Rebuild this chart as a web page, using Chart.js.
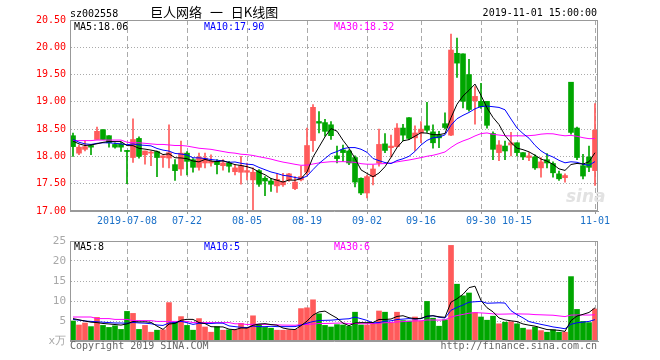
<!DOCTYPE html>
<html>
<head>
<meta charset="utf-8">
<title>巨人网络 日K线图</title>
<script src="https://cdn.jsdelivr.net/npm/chart.js@4.4.0/dist/chart.umd.min.js"></script>
<style>
  body { margin: 0; background: #fff; }
  #wrap { position: relative; width: 660px; height: 360px; overflow: hidden; font-family: "DejaVu Sans Mono", monospace; font-size: 10px; }
  .t { position: absolute; white-space: nowrap; line-height: 10px; }
  canvas { position: absolute; left: 0; }
  #c1 { top: 0; }
  #c2 { top: 230px; }
</style>
</head>
<body>
<div id="wrap">
  <canvas id="c1" width="660" height="230"></canvas>
  <canvas id="c2" width="660" height="130"></canvas>

  <div class="t" style="left:70px;top:9px;color:#000">sz002558</div>
  <div class="t" style="left:150px;top:5px;font-family:'Noto Sans CJK SC';font-size:13px;line-height:14px;word-spacing:5px;color:#000">巨人网络 一 日K线图</div>
  <div class="t" style="right:63px;top:8px;color:#000">2019-11-01 15:00:00</div>

  <div class="t" style="left:74px;top:22px;color:#000">MA5:18.06</div>
  <div class="t" style="left:204px;top:22px;color:#0000ff">MA10:17.90</div>
  <div class="t" style="left:334px;top:22px;color:#ff00ff">MA30:18.32</div>

  <div class="t" style="left:74px;top:242px;color:#000">MA5:8</div>
  <div class="t" style="left:204px;top:242px;color:#0000ff">MA10:5</div>
  <div class="t" style="left:334px;top:242px;color:#ff00ff">MA30:6</div>

  <div class="t" style="left:566px;top:187px;font-family:'DejaVu Sans';font-size:17px;line-height:18px;font-style:italic;font-weight:bold;color:#e2e2e2">sina</div>

  <div class="t" style="left:70px;top:341px;color:#666">Copyright 2019 SINA.COM</div>
  <div class="t" style="right:63px;top:341px;color:#666">http://finance.sina.com.cn</div>
</div>

<script>
// trading days 2019-06-25 .. 2019-11-01
var dates = ['06-25','06-26','06-27','06-28','07-01','07-02','07-03','07-04','07-05','07-08',
  '07-09','07-10','07-11','07-12','07-15','07-16','07-17','07-18','07-19','07-22',
  '07-23','07-24','07-25','07-26','07-29','07-30','07-31','08-01','08-02','08-05',
  '08-06','08-07','08-08','08-09','08-12','08-13','08-14','08-15','08-16','08-19',
  '08-20','08-21','08-22','08-23','08-26','08-27','08-28','08-29','08-30','09-02',
  '09-03','09-04','09-05','09-06','09-09','09-10','09-11','09-12','09-16','09-17',
  '09-18','09-19','09-20','09-23','09-24','09-25','09-26','09-27','09-30','10-08',
  '10-09','10-10','10-11','10-14','10-15','10-16','10-17','10-18','10-21','10-22',
  '10-23','10-24','10-25','10-28','10-29','10-30','10-31','11-01'];

var tickDates  = ['07-08','07-22','08-05','08-19','09-02','09-16','09-30','10-15','11-01'];
var tickLabels = ['2019-07-08','07-22','08-05','08-19','09-02','09-16','09-30','10-15','11-01'];

var opens = [18.38,18.06,18.13,18.20,18.31,18.49,18.38,18.22,18.23,18.11,
  17.98,18.33,18.03,18.06,18.09,17.98,17.97,17.85,17.77,18.06,
  17.94,17.80,17.88,17.88,17.91,17.83,17.88,17.72,17.71,17.71,
  17.57,17.74,17.60,17.55,17.46,17.48,17.57,17.41,17.57,17.71,
  18.29,18.64,18.62,18.58,18.01,18.12,18.10,17.98,17.60,17.33,
  17.63,17.88,18.23,18.16,18.18,18.52,18.71,18.34,18.43,18.56,
  18.45,18.39,18.60,18.39,19.89,19.88,19.50,19.02,19.01,19.01,
  18.42,18.07,18.19,18.21,18.25,18.07,17.98,17.99,17.79,17.94,
  17.87,17.68,17.61,19.36,18.52,17.83,17.99,17.74];

var highs = [18.43,18.21,18.29,18.21,18.54,18.49,18.38,18.25,18.26,18.11,
  18.69,18.36,18.10,18.10,18.10,18.01,18.58,17.94,18.28,18.09,
  17.96,18.06,18.06,18.03,17.94,17.94,17.91,17.85,18.00,17.88,
  17.79,17.76,17.63,17.60,17.68,17.69,17.69,17.63,17.82,18.52,
  18.95,18.82,18.68,18.64,18.19,18.21,18.12,18.01,17.61,17.66,
  17.84,18.50,18.42,18.39,18.60,18.59,18.71,18.56,18.64,18.99,
  18.58,18.46,18.80,20.24,20.17,19.88,19.78,19.28,19.34,19.01,
  18.45,18.29,18.28,18.44,18.25,18.07,18.07,18.03,17.98,18.05,
  17.90,17.73,17.68,19.36,18.54,18.04,18.19,18.97];

var lows = [18.00,18.03,18.10,18.03,18.31,18.31,18.17,18.15,18.09,17.50,
  17.89,17.97,17.86,17.83,17.63,17.80,17.79,17.56,17.65,17.66,
  17.71,17.75,17.79,17.82,17.68,17.75,17.71,17.66,17.49,17.57,
  17.00,17.45,17.28,17.36,17.34,17.45,17.54,17.39,17.55,17.66,
  18.09,18.43,18.37,18.31,17.88,17.91,17.85,17.44,17.30,17.24,
  17.48,17.82,18.07,17.99,18.17,18.29,18.31,18.10,18.25,18.44,
  18.15,18.16,18.50,18.38,19.45,18.89,18.83,18.59,18.88,18.52,
  17.94,17.92,17.94,18.01,18.01,17.94,17.92,17.76,17.62,17.79,
  17.62,17.56,17.53,18.41,17.94,17.59,17.72,17.47];

var closes = [18.18,18.17,18.18,18.17,18.46,18.31,18.25,18.17,18.17,18.09,
  18.31,18.00,18.10,18.08,17.98,18.01,18.07,17.74,18.06,17.91,
  17.80,17.99,17.97,17.91,17.85,17.88,17.82,17.79,17.83,17.74,
  17.71,17.49,17.55,17.49,17.58,17.54,17.68,17.53,17.63,18.20,
  18.90,18.61,18.46,18.38,17.96,18.07,17.88,17.53,17.33,17.63,
  17.77,18.22,18.11,18.19,18.52,18.39,18.33,18.43,18.50,18.48,
  18.25,18.34,18.53,19.95,19.71,19.01,18.86,19.10,18.91,18.57,
  18.13,18.21,18.10,18.25,18.07,17.99,18.01,17.79,17.90,17.88,
  17.70,17.59,17.65,18.44,17.98,17.64,17.80,18.48];

// volume, x10k
var volumes = [5.0,4.0,4.5,3.6,5.9,3.9,3.4,3.8,2.9,7.4,
  6.9,2.9,3.9,2.2,2.7,2.8,9.6,4.7,6.1,3.9,
  2.7,5.6,3.5,2.2,3.6,2.7,2.8,2.8,4.4,3.4,
  6.3,4.2,3.4,3.2,2.7,2.7,2.8,2.9,8.1,8.3,
  10.3,6.8,3.9,3.5,4.1,4.0,3.7,7.2,4.0,4.0,
  4.2,7.5,7.2,4.6,7.2,5.1,5.0,6.0,5.0,9.9,
  5.7,3.7,5.3,23.9,14.2,11.3,12.0,7.1,6.0,5.2,
  6.2,4.3,4.7,4.8,4.3,3.2,2.8,3.5,2.6,2.2,
  2.8,2.2,2.2,16.1,7.9,4.9,4.6,8.0];

// moving averages before enough history is in the window
var ma5Lead  = [18.28,18.23,18.20,18.21];
var ma10Lead = [18.31,18.26,18.23,18.22,18.24,18.25,18.25,18.24,18.23];
var ma30Lead = [18.29,18.29,18.29,18.29,18.30,18.30,18.30,18.30,18.30,18.26,
  18.25,18.25,18.24,18.23,18.22,18.22,18.21,18.20,18.20,18.19,
  18.17,18.15,18.14,18.13,18.11,18.09,18.07,18.06,18.04];
var volMa5Lead  = [5.6,5.3,5.0,4.7];
var volMa10Lead = [5.4,5.2,5.0,4.9,4.8,4.7,4.6,4.5,4.5];
var volMa30Lead = [6.0,6.0,6.0,6.0,5.6,5.6,5.6,5.4,5.4,5.4,
  5.1,5.1,5.1,5.1,4.9,4.9,4.9,4.9,4.9,4.9,
  4.6,4.6,4.6,4.6,4.6,4.6,4.6,4.3,4.3];

var UP = '#ff5a5a', DOWN = '#00a600';
var FONT = 'DejaVu Sans Mono';

function movingAvg(src, n, lead) {
  var out = [];
  for (var i = 0; i < src.length; i++) {
    if (i < n - 1) { out.push(lead[i]); continue; }
    var s = 0;
    for (var j = i - n + 1; j <= i; j++) s += src[j];
    out.push(s / n);
  }
  return out;
}

var colors = [], bodies = [], wicks = [];
for (var i = 0; i < dates.length; i++) {
  colors.push(closes[i] >= opens[i] ? UP : DOWN);
  bodies.push([opens[i], closes[i]]);
  wicks.push([lows[i], highs[i]]);
}

function isTick(idx) {
  return tickDates.indexOf(dates[idx]) >= 0;
}

// grey frame round the plot area
var framePlugin = {
  id: 'frame',
  afterDraw: function(chart) {
    var a = chart.chartArea, ctx = chart.ctx;
    ctx.save();
    ctx.strokeStyle = '#999';
    ctx.lineWidth = 1;
    ctx.strokeRect(a.left + 0.5, a.top + 0.5, a.right - a.left - 1, a.bottom - a.top - 1);
    ctx.restore();
  }
};

function lineSet(label, data, color) {
  return { type: 'line', label: label, data: data, borderColor: color, borderWidth: 1,
    pointRadius: 0, tension: 0, fill: false, order: 0 };
}

function xScale(showLabels, height) {
  return {
    offset: true,
    grid: {
      offset: false,
      color: function(ctx) { return isTick(ctx.index) ? '#aaa' : 'rgba(0,0,0,0)'; },
      drawTicks: showLabels,
      tickLength: 3,
      tickColor: function(ctx) { return isTick(ctx.index) ? '#999' : 'rgba(0,0,0,0)'; },
      tickBorderDash: []
    },
    border: { color: '#999', dash: [5, 3] },
    ticks: {
      display: showLabels,
      autoSkip: false,
      maxRotation: 0,
      padding: 1,
      color: '#1a70c8',
      font: { family: FONT, size: 10 },
      callback: function(v, idx) {
        var k = tickDates.indexOf(dates[idx]);
        return k >= 0 ? tickLabels[k] : '';
      }
    },
    afterFit: function(s) { s.height = height; }
  };
}

//price chart
var priceChart = new Chart(document.getElementById('c1'), {
  type: 'bar',
  data: {
    labels: dates,
    datasets: [
      lineSet('MA5', movingAvg(closes, 5, ma5Lead), '#000000'),
      lineSet('MA10', movingAvg(closes, 10, ma10Lead), '#0000ff'),
      lineSet('MA30', movingAvg(closes, 30, ma30Lead), '#ff00ff'),
      { label: 'body', data: bodies, backgroundColor: colors, barThickness: 5,
        minBarLength: 1, grouped: false, order: 1 },
      { label: 'wick', data: wicks, backgroundColor: colors, barThickness: 1,
        grouped: false, order: 2 }
    ]
  },
  options: {
    responsive: false,
    animation: false,
    layout: { padding: { left: 0, right: 62, top: 20, bottom: 0 } },
    plugins: { legend: { display: false }, tooltip: { enabled: false } },
    scales: {
      x: xScale(true, 19),
      y: {
        min: 17, max: 20.5,
        grid: { color: '#aaa', drawTicks: false },
        border: { color: '#999', dash: [1, 2] },
        ticks: {
          stepSize: 0.5, padding: 4, color: '#ff0000',
          font: { family: FONT, size: 10 },
          callback: function(v) { return v.toFixed(2); }
        },
        afterFit: function(s) { s.width = 70; }
      }
    }
  },
  plugins: [framePlugin]
});

//volume chart
var volChart = new Chart(document.getElementById('c2'), {
  type: 'bar',
  data: {
    labels: dates,
    datasets: [
      lineSet('MA5', movingAvg(volumes, 5, volMa5Lead), '#000000'),
      lineSet('MA10', movingAvg(volumes, 10, volMa10Lead), '#0000ff'),
      lineSet('MA30', movingAvg(volumes, 30, volMa30Lead), '#ff00ff'),
      { label: 'vol', data: volumes, backgroundColor: colors, barThickness: 5, order: 1 }
    ]
  },
  options: {
    responsive: false,
    animation: false,
    layout: { padding: { left: 0, right: 62, top: 11, bottom: 0 } },
    plugins: { legend: { display: false }, tooltip: { enabled: false } },
    scales: {
      x: xScale(false, 19),
      y: {
        min: 0, max: 25,
        grid: { color: '#aaa', drawTicks: false },
        border: { color: '#999', dash: [1, 2] },
        ticks: {
          stepSize: 5, padding: 4, color: '#a8a8a8',
          font: { family: FONT, size: 11 },
          callback: function(v) { return v === 0 ? 'x万' : v; }
        },
        afterFit: function(s) { s.width = 70; }
      }
    }
  },
  plugins: [framePlugin]
});
</script>
</body>
</html>
